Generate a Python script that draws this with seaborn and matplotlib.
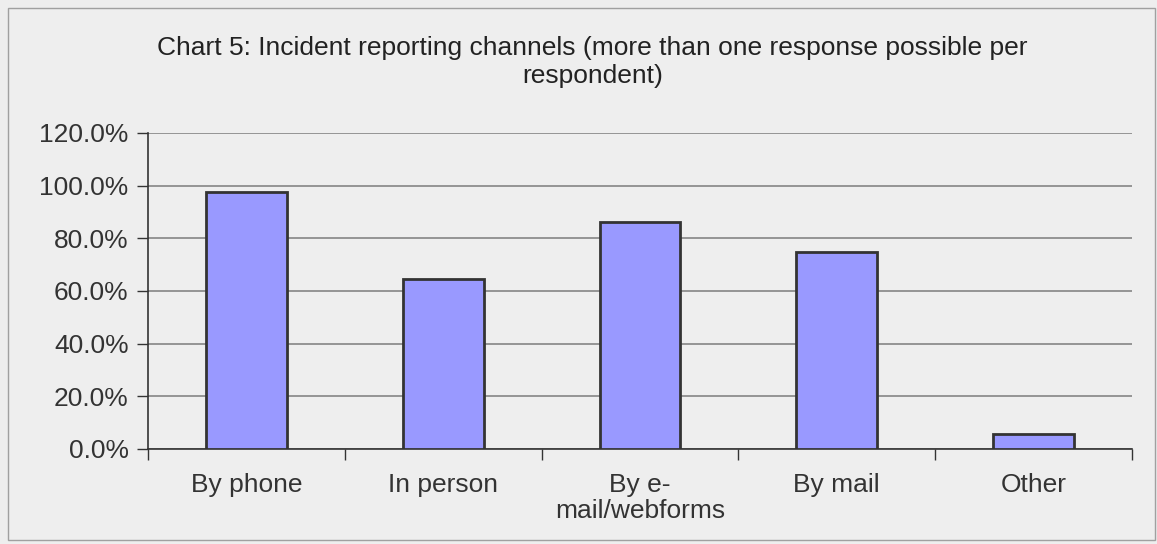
import matplotlib
matplotlib.use("Agg")
import matplotlib.pyplot as plt
import seaborn as sns
import pandas as pd
import numpy as np
from matplotlib.ticker import FuncFormatter, FixedLocator
from matplotlib.patches import Rectangle

categories = ["By phone", "In person", "By e-\nmail/webforms", "By mail", "Other"]
values = [97.6, 64.6, 86.1, 74.8, 5.8]
title_lines = "Chart 5: Incident reporting channels (more than one response possible per\nrespondent)"

df = pd.DataFrame({"channel": categories, "pct": values})

sns.set_theme(style="white")
plt.rcParams['font.family'] = ['Liberation Sans', 'DejaVu Sans']

bg = "#eeeeee"
fig = plt.figure(figsize=(11.57, 5.44), dpi=100, facecolor=bg)
ax = fig.add_axes([148/1157, 1-449/544, (1132-148)/1157, (449-133)/544])
ax.set_facecolor(bg)

sns.barplot(data=df, x="channel", y="pct", ax=ax, color="#9999ff", width=0.41,
            edgecolor="#333333", linewidth=2, saturation=1, zorder=3)

ax.set_ylim(0, 120)
ax.set_xlim(-0.5, len(categories) - 0.5)
ax.set_yticks(np.arange(0, 121, 20))
ax.yaxis.set_major_formatter(FuncFormatter(lambda v, p: f"{v:.1f}%"))
ax.grid(axis="y", color="#858585", linewidth=1.2, zorder=0)
ax.set_axisbelow(True)
ax.set_xlabel("")
ax.set_ylabel("")

for s in ["top", "right"]:
    ax.spines[s].set_visible(False)
for s in ["left", "bottom"]:
    ax.spines[s].set_color("#333333")
    ax.spines[s].set_linewidth(1.2)

ax.tick_params(axis="y", which="major", left=True, length=8, width=1, color="#333333",
               labelsize=19, labelcolor="#333333", pad=6)
ax.tick_params(axis="x", which="major", bottom=False, labelsize=19, labelcolor="#333333", pad=11)
ax.xaxis.set_minor_locator(FixedLocator(np.arange(-0.5, len(categories), 1.0)))
ax.tick_params(axis="x", which="minor", bottom=True, length=8, width=1, color="#333333")
for lab in ax.get_xticklabels():
    lab.set_linespacing(1.15)

fig.text(0.512, 1-62/544, title_lines, ha="center", va="center", fontsize=19,
         color="#222222", linespacing=1.2)

fig.patches.append(Rectangle((8/1157, 4/544), 1147/1157, 532/544, transform=fig.transFigure,
                             fill=False, edgecolor="#a0a0a0", linewidth=1))

fig.savefig("out.png", dpi=100, facecolor=bg)
